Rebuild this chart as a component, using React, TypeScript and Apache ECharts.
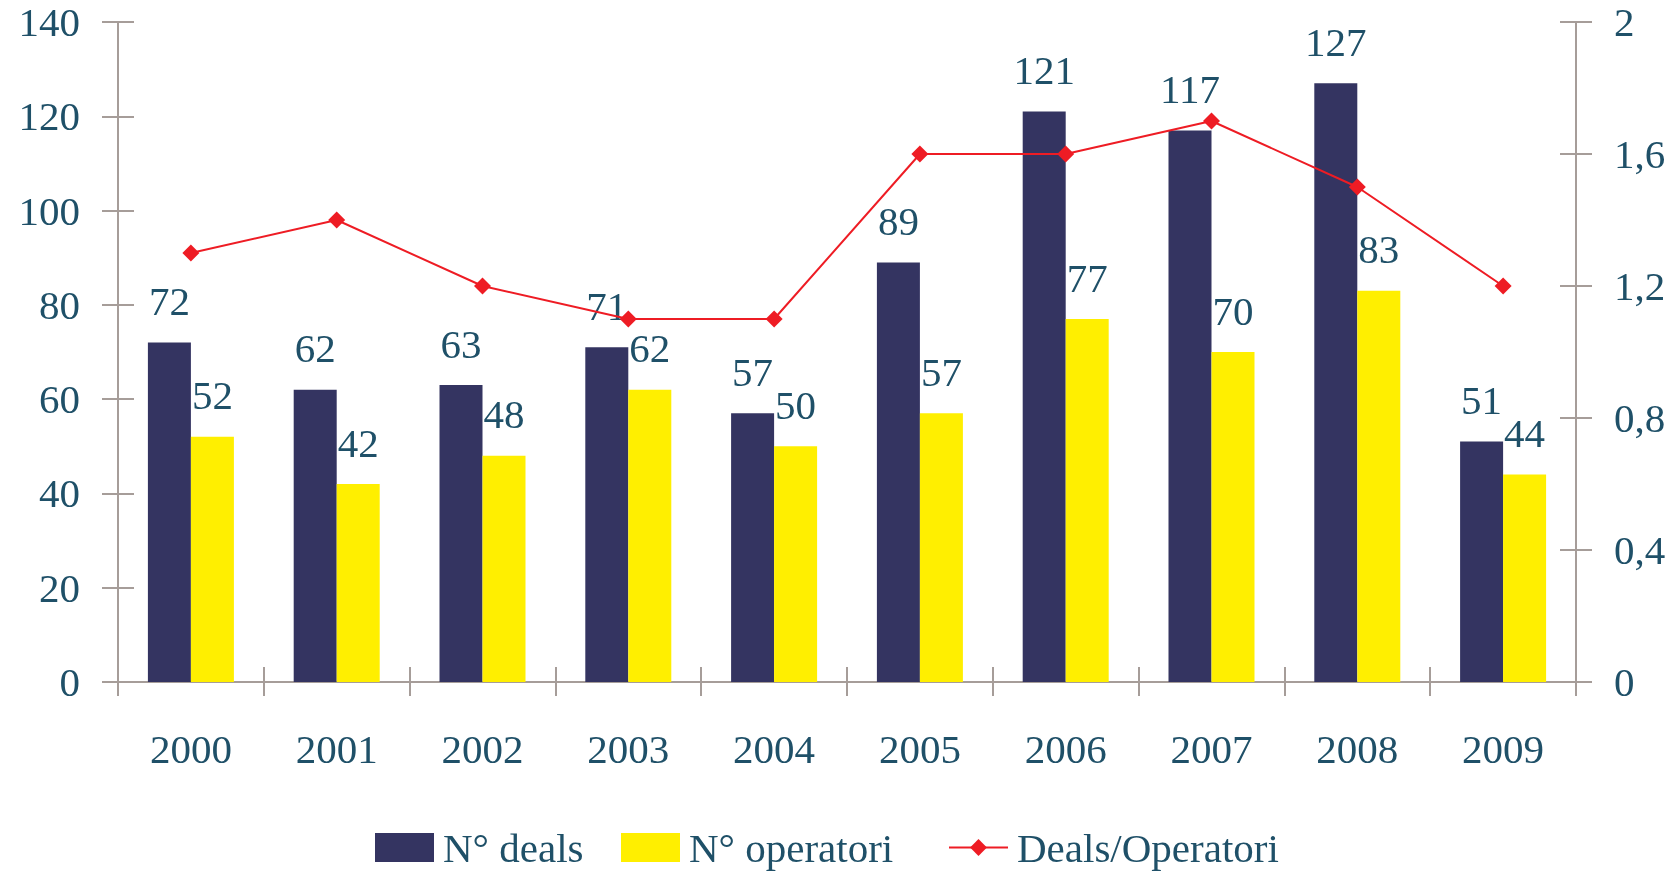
import React, { useEffect, useRef } from "react";
import * as echarts from "echarts";

const years = ["2000", "2001", "2002", "2003", "2004", "2005", "2006", "2007", "2008", "2009"];
const deals = [72, 62, 63, 71, 57, 89, 121, 117, 127, 51];
const operatori = [52, 42, 48, 62, 50, 57, 77, 70, 83, 44];
const ratio = [1.3, 1.4, 1.2, 1.1, 1.1, 1.6, 1.6, 1.7, 1.5, 1.2];

const FONT = "Liberation Serif";
const TXT = "#1F5068";
const AX = "#A69D99";
const FS = 41;

export default function App() {
  const ref = useRef<HTMLDivElement>(null);
  useEffect(() => {
    if (!ref.current) return;
    const chart = echarts.init(ref.current, null, { renderer: "svg" });
    const axisLine = { show: true, lineStyle: { color: AX, width: 2 } };
    const tickOut = (len: number) => ({ show: true, inside: false, length: len, lineStyle: { color: AX, width: 2 } });
    const tickIn = (len: number) => ({ show: true, inside: true, length: len, lineStyle: { color: AX, width: 2 } });
    const fmt = (v: number) => String(Math.round(v * 10) / 10).replace(".", ",");
    const legendBase = {
      orient: "horizontal",
      padding: 0,
      itemGap: 0,
      textStyle: { fontFamily: FONT, fontSize: FS, color: TXT, lineHeight: 29, padding: [0, 0, 0, 4] },
      selectedMode: false,
    };
    chart.setOption({
      animation: false,
      textStyle: { fontFamily: FONT },
      grid: { left: 118, right: 104, top: 22, bottom: 189, containLabel: false },
      legend: [
        { ...legendBase, data: [{ name: "N° deals", icon: "rect" }], left: 375, top: 827, itemWidth: 59, itemHeight: 29 },
        { ...legendBase, data: [{ name: "N° operatori", icon: "rect" }], left: 621, top: 827, itemWidth: 59, itemHeight: 29 },
        { ...legendBase, data: ["Deals/Operatori"], left: 948, top: 827, itemWidth: 59, itemHeight: 21 },
      ],
      xAxis: [
        {
          type: "category",
          data: years,
          position: "bottom",
          boundaryGap: true,
          axisLine,
          axisTick: tickOut(14),
          axisLabel: { fontFamily: FONT, fontSize: FS, color: TXT, margin: 46 },
          splitLine: { show: false },
        },
        {
          type: "category",
          data: years,
          position: "bottom",
          boundaryGap: true,
          axisLine: { show: false },
          axisTick: tickIn(15),
          axisLabel: { show: false },
          splitLine: { show: false },
        },
      ],
      yAxis: [
        {
          type: "value",
          position: "left",
          min: 0,
          max: 140,
          interval: 20,
          axisLine,
          axisTick: tickOut(16),
          axisLabel: { fontFamily: FONT, fontSize: FS, color: TXT, margin: 38 },
          splitLine: { show: false },
        },
        {
          type: "value",
          position: "right",
          min: 0,
          max: 2,
          interval: 0.4,
          axisLine,
          axisTick: tickOut(16),
          axisLabel: { fontFamily: FONT, fontSize: FS, color: TXT, margin: 38, formatter: fmt },
          splitLine: { show: false },
        },
        {
          type: "value",
          position: "left",
          min: 0,
          max: 140,
          interval: 20,
          axisLine: { show: false },
          axisTick: tickIn(16),
          axisLabel: { show: false },
          splitLine: { show: false },
        },
        {
          type: "value",
          position: "right",
          min: 0,
          max: 2,
          interval: 0.4,
          axisLine: { show: false },
          axisTick: tickIn(16),
          axisLabel: { show: false },
          splitLine: { show: false },
        },
      ],
      series: [
        {
          name: "N° deals",
          type: "bar",
          xAxisIndex: 0,
          yAxisIndex: 0,
          data: deals,
          barWidth: 43,
          barGap: "0%",
          itemStyle: { color: "#343461" },
          label: { show: true, position: "top", distance: 21, fontFamily: FONT, fontSize: FS, color: TXT },
          z: 2,
        },
        {
          name: "N° operatori",
          type: "bar",
          xAxisIndex: 0,
          yAxisIndex: 0,
          data: operatori,
          barWidth: 43,
          barGap: "0%",
          itemStyle: { color: "#FFEF00" },
          label: { show: true, position: "top", distance: 21, fontFamily: FONT, fontSize: FS, color: TXT },
          z: 2,
        },
        {
          name: "Deals/Operatori",
          type: "line",
          xAxisIndex: 0,
          yAxisIndex: 1,
          data: ratio,
          symbol: "diamond",
          symbolSize: 17,
          lineStyle: { color: "#EE1C24", width: 2 },
          itemStyle: { color: "#EE1C24" },
          z: 3,
        },
      ],
    });
    return () => chart.dispose();
  }, []);
  return <div ref={ref} style={{ position: "fixed", left: 0, top: 0, width: 1680, height: 871 }} />;
}
